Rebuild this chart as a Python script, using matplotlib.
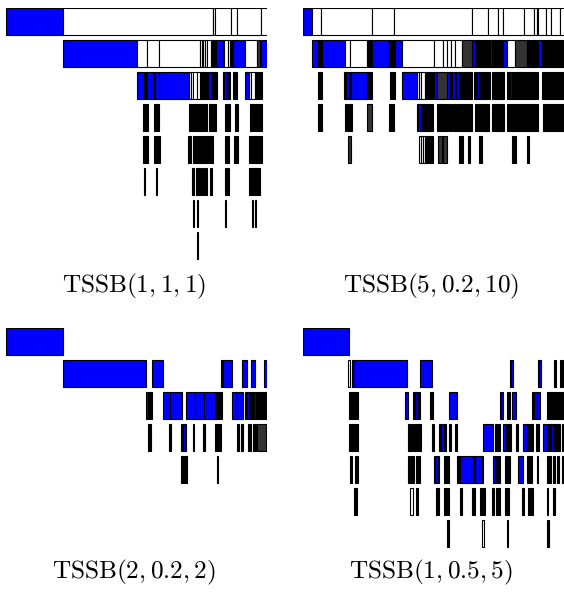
import matplotlib
matplotlib.use("Agg")
import matplotlib.pyplot as plt
from matplotlib.patches import Rectangle

plt.rcParams["mathtext.fontset"] = "cm"

FIG_W, FIG_H = 564, 592
DPI = 100

TITLES = [r"$\mathrm{TSSB}(1, 1, 1)$", r"$\mathrm{TSSB}(5, 0.2, 10)$",
          r"$\mathrm{TSSB}(2, 0.2, 2)$", r"$\mathrm{TSSB}(1, 0.5, 5)$"]

# one list per depth; each entry is (start, end, kind) on the unit stick
# kind: b = mass of the node, w = empty subtree box, k = pile of tiny nodes, g = grey pile
TSSB_1_1_1 = [
    [(0, .217, "b"), (.217, .792, "w"), (.792, .802, "w"), (.802, .861, "w"), (.861, .884, "w"),
     (.884, .976, "w"), (.976, 1.05, "w")],
    [(.217, .501, "b"), (.501, .541, "w"), (.541, .587, "w"), (.587, .743, "w"), (.743, .750, "w"),
     (.750, .753, "w"), (.753, .762, "w"), (.762, .770, "w"), (.770, .785, "w"), (.785, .805, "k"),
     (.805, .831, "b"), (.831, .836, "w"), (.836, .849, "w"), (.849, .858, "w"), (.858, .871, "k"),
     (.871, .916, "b"), (.916, .961, "w"), (.962, .973, "g"), (.976, 1.05, "b")],
    [(.501, .529, "b"), (.529, .539, "k"), (.539, .564, "b"), (.564, .571, "k"), (.571, .587, "b"),
     (.587, .702, "b"), (.702, .710, "w"), (.710, .718, "w"), (.718, .730, "w"), (.730, .743, "w"),
     (.743, .775, "k"), (.775, .788, "b"), (.788, .808, "k"), (.830, .836, "k"), (.836, .845, "b"),
     (.845, .858, "k"), (.869, .884, "k"), (.916, .932, "b"), (.932, .939, "w"), (.939, .954, "w"),
     (.954, .980, "k")],
    [(.526, .545, "k"), (.567, .587, "k"), (.702, .706, "k"), (.706, .710, "b"), (.710, .769, "k"),
     (.779, .805, "k"), (.839, .858, "k"), (.877, .890, "k"), (.935, .980, "k")],
    [(.526, .545, "k"), (.567, .590, "k"), (.698, .710, "k"), (.715, .732, "k"), (.732, .735, "b"),
     (.735, .794, "k"), (.838, .856, "k"), (.875, .888, "k"), (.932, .980, "k")],
    [(.530, .534, "k"), (.575, .579, "k"), (.711, .720, "k"), (.727, .743, "k"), (.746, .756, "k"),
     (.759, .769, "k"), (.782, .788, "k"), (.839, .845, "k"), (.852, .856, "k"), (.932, .973, "k")],
    [(.715, .719, "k"), (.731, .735, "k"), (.839, .843, "k"), (.941, .946, "k"), (.954, .959, "k")],
    [(.731, .734, "k")],
]

TSSB_5_02_10 = [
    [(0, .033, "b"), (.033, .069, "w"), (.069, .263, "w"), (.263, .350, "w"), (.350, .646, "w"),
     (.646, .710, "w"), (.710, .748, "w"), (.748, .765, "w"), (.765, .848, "w"), (.848, .886, "w"),
     (.886, .895, "w"), (.895, .902, "w"), (.902, .931, "w"), (.931, .949, "w"), (.949, .985, "w"),
     (.985, 1.05, "w")],
    [(.036, .059, "b"), (.059, .072, "k"), (.072, .161, "b"), (.161, .180, "w"), (.180, .244, "w"),
     (.244, .266, "k"), (.266, .331, "b"), (.331, .352, "k"), (.352, .378, "b"), (.378, .502, "w"),
     (.502, .537, "w"), (.537, .550, "w"), (.550, .566, "w"), (.566, .582, "w"), (.582, .608, "w"),
     (.608, .646, "g"), (.646, .659, "b"), (.659, .716, "k"), (.716, .725, "b"), (.725, .767, "k"),
     (.767, .782, "b"), (.782, .812, "w"), (.812, .857, "g"), (.857, .895, "k"), (.902, .915, "b"),
     (.915, 1.05, "k")],
    [(.056, .072, "k"), (.158, .163, "k"), (.163, .176, "b"), (.176, .184, "k"), (.184, .244, "b"),
     (.244, .266, "k"), (.333, .341, "k"), (.341, .345, "b"), (.345, .352, "k"), (.378, .436, "b"),
     (.436, .444, "w"), (.444, .452, "w"), (.452, .467, "w"), (.467, .499, "k"), (.502, .512, "b"),
     (.512, .550, "g"), (.550, .563, "b"), (.563, .569, "k"), (.569, .582, "b"), (.582, .588, "k"),
     (.588, .599, "b"), (.599, .646, "k"), (.656, .665, "k"), (.665, .675, "b"), (.675, .716, "k"),
     (.723, .770, "k"), (.782, .793, "k"), (.793, .800, "b"), (.800, .870, "k"), (.870, .874, "b"),
     (.874, .902, "k"), (.915, 1.05, "k")],
    [(.056, .072, "k"), (.161, .167, "k"), (.174, .187, "k"), (.244, .263, "g"), (.331, .350, "k"),
     (.436, .441, "k"), (.441, .452, "b"), (.452, .499, "k"), (.514, .531, "k"), (.531, .536, "b"),
     (.536, .557, "k"), (.561, .570, "k"), (.574, .589, "k"), (.595, .646, "k"), (.659, .675, "k"),
     (.678, .714, "k"), (.723, .770, "k"), (.782, .902, "k"), (.918, 1.05, "k")],
    [(.174, .184, "g"), (.444, .452, "w"), (.452, .460, "w"), (.460, .467, "w"), (.467, .499, "k"),
     (.518, .531, "g"), (.535, .550, "g"), (.599, .612, "k"), (.633, .640, "k"), (.675, .684, "k"),
     (.800, .816, "k"), (.857, .866, "k")],
]

TSSB_2_02_2 = [
    [(0, .217, "b")],
    [(.217, .536, "b"), (.558, .603, "b"), (.824, .830, "k"), (.830, .865, "b"), (.903, .922, "b"),
     (.939, .954, "b"), (.989, 1.05, "b")],
    [(.536, .543, "b"), (.543, .558, "k"), (.600, .628, "b"), (.628, .673, "b"), (.690, .724, "b"),
     (.724, .760, "b"), (.760, .801, "b"), (.801, .826, "k"), (.865, .884, "b"), (.884, .907, "b"),
     (.916, .923, "k"), (.923, .932, "b"), (.932, .950, "k"), (.950, .958, "b"), (.958, 1.05, "k")],
    [(.545, .554, "k"), (.626, .631, "k"), (.669, .680, "k"), (.680, .686, "b"), (.686, .690, "k"),
     (.715, .721, "k"), (.756, .762, "k"), (.801, .823, "k"), (.884, .894, "k"), (.899, .907, "k"),
     (.928, .939, "k"), (.948, .958, "k"), (.963, .996, "g")],
    [(.669, .677, "k"), (.680, .692, "k"), (.807, .813, "k")],
]

TSSB_1_05_5 = [
    [(0, .176, "b")],
    [(.174, .180, "w"), (.186, .190, "k"), (.190, .198, "b"), (.201, .397, "b"), (.448, .493, "b"),
     (.793, .797, "k"), (.797, .803, "b"), (.902, .906, "k"), (.906, .912, "b"), (.962, .969, "k"),
     (.985, .995, "k")],
    [(.176, .212, "k"), (.391, .403, "b"), (.423, .429, "k"), (.429, .437, "b"), (.437, .448, "k"),
     (.487, .499, "k"), (.561, .589, "b"), (.755, .760, "k"), (.760, .765, "b"), (.782, .793, "k"),
     (.800, .816, "b"), (.876, .885, "k"), (.885, .895, "b"), (.895, .908, "b"), (.936, 1.05, "k")],
    [(.176, .212, "k"), (.403, .416, "k"), (.423, .452, "k"), (.493, .502, "k"), (.522, .527, "k"),
     (.527, .540, "b"), (.540, .548, "k"), (.561, .566, "k"), (.582, .589, "k"), (.691, .729, "b"),
     (.736, .755, "k"), (.765, .778, "b"), (.782, .796, "k"), (.816, .825, "k"), (.841, .859, "b"),
     (.859, .882, "k"), (.893, .905, "k"), (.918, .933, "b"), (.933, .950, "k"), (.950, .956, "b"),
     (.956, .985, "k"), (.991, 1.05, "k")],
    [(.180, .187, "k"), (.199, .212, "k"), (.403, .426, "k"), (.432, .448, "k"), (.502, .506, "k"),
     (.506, .518, "b"), (.518, .522, "k"), (.540, .561, "k"), (.589, .602, "k"), (.602, .653, "b"),
     (.653, .659, "k"), (.659, .685, "b"), (.685, .691, "k"), (.727, .735, "b"), (.735, .755, "k"),
     (.774, .793, "k"), (.825, .844, "b"), (.857, .876, "k"), (.895, .901, "k"), (.933, .949, "k"),
     (.957, .966, "k"), (.972, .982, "k"), (.991, 1.05, "k")],
    [(.197, .206, "k"), (.410, .423, "w"), (.432, .439, "k"), (.510, .522, "k"), (.540, .561, "k"),
     (.602, .608, "k"), (.646, .659, "k"), (.678, .697, "k"), (.723, .732, "k"), (.739, .755, "k"),
     (.774, .790, "k"), (.838, .847, "k"), (.863, .880, "k"), (.933, .940, "k"), (.959, .966, "k")],
    [(.553, .561, "k"), (.685, .693, "w"), (.780, .787, "k"), (.936, .943, "k")],
]

PANELS = [TSSB_1_1_1, TSSB_5_02_10, TSSB_2_02_2, TSSB_1_05_5]
FILLS = {"b": "#0000ff", "w": "white", "k": "black", "g": "#333333"}

# pixel layout of each panel: left edge, top edge, title centre x and y
LAYOUT = [(6, 8, 134, 286), (303, 8, 431, 286), (6, 328, 134, 572), (303, 328, 431, 572)]
PANEL_W = 261
ROW_PITCH = 32
BOX_H = 27 / 32
N_ROWS = 8


def draw_panel(fig, rows, left, top):
    ax = fig.add_axes([left / FIG_W, 1 - (top + N_ROWS * ROW_PITCH) / FIG_H,
                       PANEL_W / FIG_W, N_ROWS * ROW_PITCH / FIG_H])
    for depth, row in enumerate(rows):
        for start, end, kind in row:
            ax.add_patch(Rectangle((start, depth), end - start, BOX_H,
                                   facecolor=FILLS[kind], edgecolor="black", linewidth=0.8))
    ax.set_xlim(0, 1)
    ax.set_ylim(N_ROWS, 0)
    ax.axis("off")
    return ax


fig = plt.figure(figsize=(FIG_W / DPI, FIG_H / DPI), dpi=DPI)
for rows, (left, top, tx, ty), title in zip(PANELS, LAYOUT, TITLES):
    draw_panel(fig, rows, left, top)
    fig.text(tx / FIG_W, 1 - ty / FIG_H, title, ha="center", va="center", fontsize=18.2)

fig.savefig("out.png", dpi=DPI)
